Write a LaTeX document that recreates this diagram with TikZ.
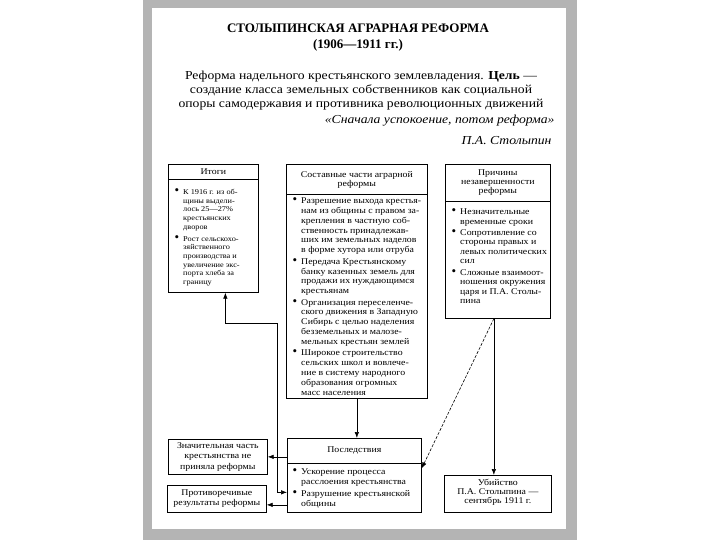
\documentclass[tikz,border=0pt]{standalone}
\usepackage{fontspec}
\setmainfont{Liberation Serif}
\newfontfamily\boxfont[FakeStretch=1.12]{Liberation Serif}
\usetikzlibrary{arrows.meta}
\definecolor{FrameGray}{RGB}{180,180,180}
\newcommand{\blt}{\llap{{\normalfont\fontsize{13}{0}\selectfont\textbullet}\hspace{4pt}}}
\tikzset{
  box/.style={draw, line width=0.7pt, inner sep=0pt, anchor=north west},
  hd/.style={align=center, inner sep=0pt, font=\boxfont\fontsize{8.8}{9}\selectfont},
  lst/.style={anchor=north west, align=left, inner sep=0pt, font=\boxfont\fontsize{8.8}{9.5}\selectfont},
  arr/.style={-{Latex[length=6pt,width=4.5pt]}, line width=0.6pt},
}

\begin{document}
\begin{tikzpicture}[x=1pt, y=-1pt]
  \useasboundingbox (0,0) rectangle (720,540);
  \fill[FrameGray] (143,0) rectangle (577,540);
  \fill[white] (152,8) rectangle (566,529);
  % heading
  \node[align=center, font=\fontsize{13}{16}\selectfont\bfseries] (title) at (358,38) {СТОЛЫПИНСКАЯ АГРАРНАЯ РЕФОРМА\\(1906—1911 гг.)};
  \node[align=center, font=\boxfont\fontsize{12.2}{14}\selectfont] (aim) at (361,91) {Реформа надельного крестьянского землевладения. \textbf{Цель} —\\создание класса земельных собственников как социальной\\опоры самодержавия и противника революционных движений};
  \node[anchor=east, font=\boxfont\fontsize{12.2}{14}\selectfont\itshape] (motto) at (558,121) {«Сначала успокоение, потом реформа»};
  \node[anchor=east, font=\boxfont\fontsize{12.2}{14}\selectfont\itshape] (author) at (555,141) {П.А. Столыпин};
  % boxes
  \node[box, minimum width=90, minimum height=128] (itogi) at (168,164) {};
  \node[box, minimum width=141, minimum height=234] (sostav) at (286,164) {};
  \node[box, minimum width=105, minimum height=154] (prichiny) at (445,164) {};
  \node[box, minimum width=134, minimum height=74] (posled) at (287,438) {};
  \node[box, minimum width=99, minimum height=35] (znach) at (168,439) {};
  \node[box, minimum width=99, minimum height=27] (protiv) at (167,485) {};
  \node[box, minimum width=107, minimum height=37] (ubiystvo) at (444,475) {};
  \draw[line width=0.7pt] (itogi.west |- 0,179) -- (itogi.east |- 0,179);
  \draw[line width=0.7pt] (sostav.west |- 0,194) -- (sostav.east |- 0,194);
  \draw[line width=0.7pt] (prichiny.west |- 0,201) -- (prichiny.east |- 0,201);
  \draw[line width=0.7pt] (posled.west |- 0,463) -- (posled.east |- 0,463);
  % headers
  \node[hd] (itogihd) at (itogi.north |- 0,171.5) {Итоги};
  \node[hd] (sostavhd) at (sostav.north |- 0,180) {Составные части аграрной\\реформы};
  \node[hd] (prichinyhd) at (prichiny.north |- 0,183) {Причины\\незавершенности\\реформы};
  \node[hd] (posledhd) at (posled.north |- 0,450.5) {Последствия};
  \node[hd, font=\boxfont\fontsize{8.8}{10.5}\selectfont] (znachtxt) at (znach.center) {Значительная часть\\крестьянства не\\приняла реформы};
  \node[hd, font=\boxfont\fontsize{8.8}{10}\selectfont] (protivtxt) at (protiv.center) {Противоречивые\\результаты реформы};
  \node[hd] (ubiystvotxt) at ([yshift=2pt]ubiystvo.center) {Убийство\\П.А. Столыпина —\\сентябрь 1911 г.};
  % lists
  \node[lst, font=\boxfont\fontsize{7.4}{8.7}\selectfont] (itogilist) at (183,188.5) {\blt К 1916 г. из об-\\щины выдели-\\лось 25—27\%\\крестьянских\\дворов\\[3pt]\blt Рост сельскохо-\\зяйственного\\производства и\\увеличение экс-\\порта хлеба за\\границу};
  \node[lst, font=\boxfont\fontsize{8.8}{9.85}\selectfont] (sostavlist) at (301,197.5) {\blt Разрешение выхода крестья-\\нам из общины с правом за-\\крепления в частную соб-\\ственность принадлежав-\\ших им земельных наделов\\в форме хутора или отруба\\[1.5pt]\blt Передача Крестьянскому\\банку казенных земель для\\продажи их нуждающимся\\крестьянам\\[1.5pt]\blt Организация переселенче-\\ского движения в Западную\\Сибирь с целью наделения\\безземельных и малозе-\\мельных крестьян землей\\[1.5pt]\blt Широкое строительство\\сельских школ и вовлече-\\ние в систему народного\\образования огромных\\масс населения};
  \node[lst] (prichinylist) at (460,208.5) {\blt Незначительные\\временные сроки\\[1.75pt]\blt Сопротивление со\\стороны правых и\\левых политических\\сил\\[1.75pt]\blt Сложные взаимоот-\\ношения окружения\\царя и П.А. Столы-\\пина};
  \node[lst] (posledlist) at (301,468.5) {\blt Ускорение процесса\\расслоения крестьянства\\[3pt]\blt Разрушение крестьянской\\общины};
  % connectors
  \coordinate (bend) at (277,323);
  \coordinate (protivin) at ([yshift=-6pt]protiv.east);
  \draw[arr] (sostav.south) -- (sostav.south |- posled.north);
  \draw[arr] (posled.west |- znach.east) -- (znach.east);
  \draw[arr] (posled.west |- protivin) -- (protivin);
  \draw[arr] (bend) |- ([yshift=-17pt]posled.west);
  \draw[arr] (bend) -| ([xshift=12pt]itogi.south);
  \draw[arr] ([xshift=-4pt]prichiny.south) -- ([xshift=-4pt]ubiystvo.north);
  \draw[arr, dash pattern=on 3pt off 1.5pt] ([xshift=-4pt]prichiny.south) -- ([yshift=7pt]posled.east);
\end{tikzpicture}
\end{document}
